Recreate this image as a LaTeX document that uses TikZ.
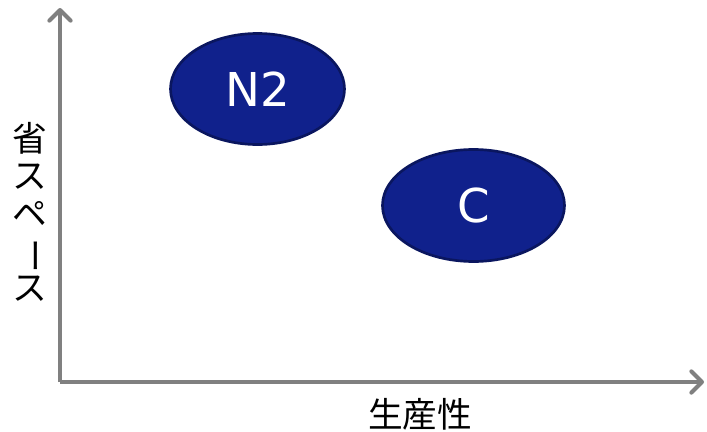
\documentclass[tikz,border=0pt]{standalone}
\usepackage{fontspec}
\setmainfont{DejaVu Sans}
\newfontfamily\jpfont{Noto Sans CJK JP}
\usetikzlibrary{arrows.meta,shapes.geometric}
\definecolor{axisgray}{RGB}{128,128,128}
\definecolor{ellfill}{RGB}{16,33,140}
\definecolor{elldraw}{RGB}{10,22,95}
\begin{document}
\begin{tikzpicture}[x=0.75pt,y=-0.75pt,
  axis/.style={draw=axisgray,line width=3pt,-{Straight Barb[length=8pt,width=16pt,round]}},
  bubble/.style={ellipse,fill=ellfill,draw=elldraw,line width=2pt,inner sep=0pt,text=white,font=\fontsize{35}{40}\selectfont},
  jlabel/.style={font=\jpfont\fontsize{26}{28}\selectfont,text=black,inner sep=0pt}]
\useasboundingbox (0,0) rectangle (707,432);
\coordinate (O) at (60,382);
\coordinate (Ytip) at (60,8);
\coordinate (Xtip) at (704,382);
\draw[axis] (O) -- (Ytip);
\draw[axis] (O) -- (Xtip);
\node[bubble,minimum width=174*0.75pt,minimum height=111*0.75pt] (n2) at (257.5,89) {N2};
\node[bubble,minimum width=182*0.75pt,minimum height=112*0.75pt] (c) at (473.5,205.5) {C};
\node[jlabel,align=center] (ylab) at (30,212) {省\\ス\\ペ\\\rotatebox[origin=c]{-90}{ー}\\ス};
\node[jlabel] (xlab) at (420,414) {生産性};
\end{tikzpicture}
\end{document}
